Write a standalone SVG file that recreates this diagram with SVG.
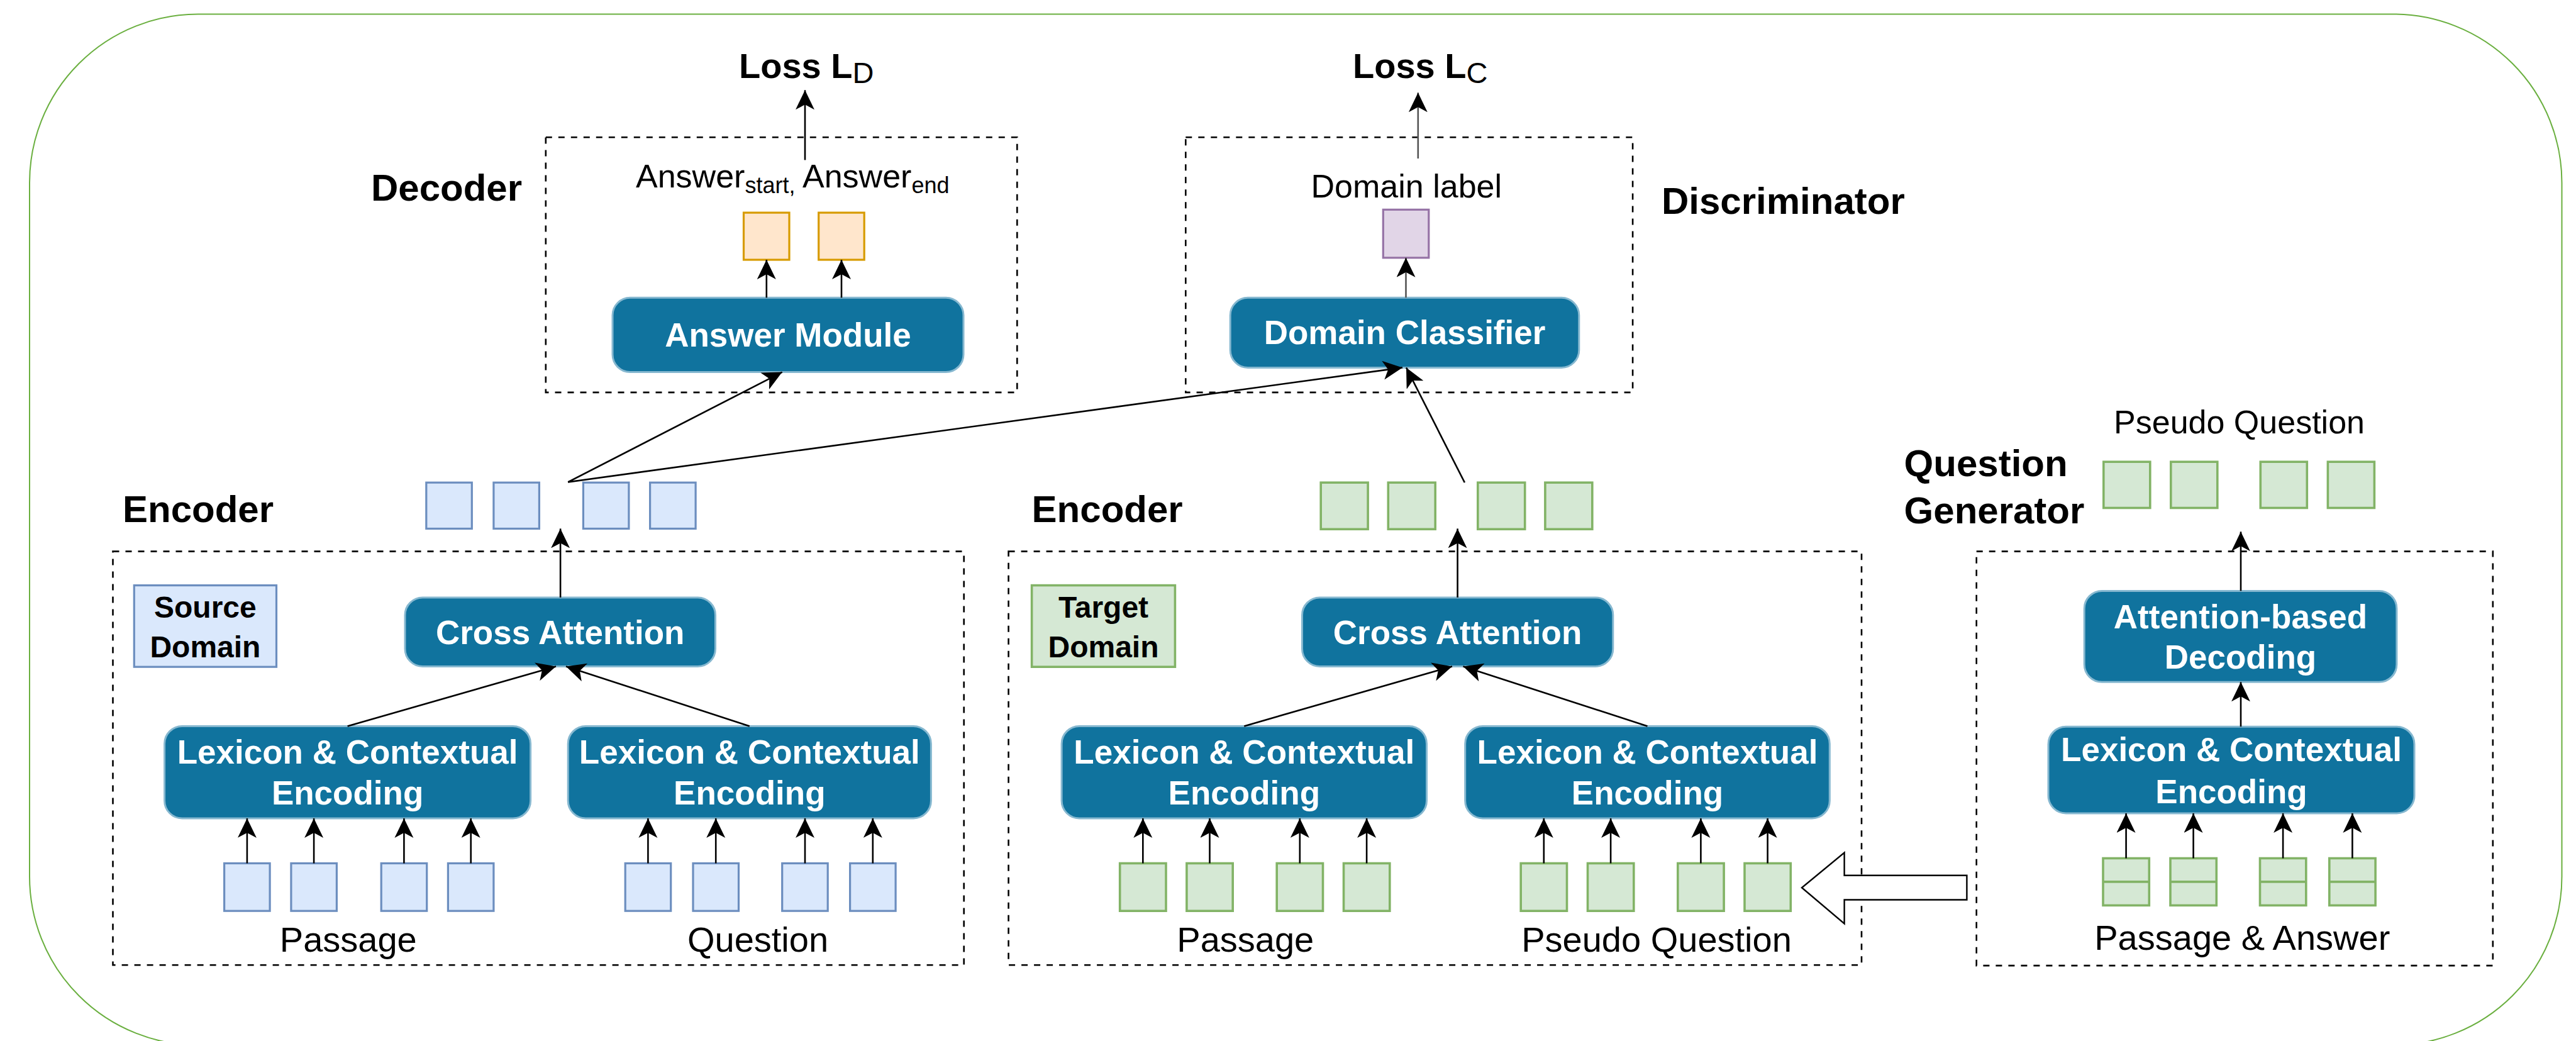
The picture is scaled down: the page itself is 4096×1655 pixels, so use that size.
<svg xmlns="http://www.w3.org/2000/svg" width="4096" height="1655" viewBox="0 0 4096 1655">
<defs>
<style>
.mod{fill:#10739e;stroke:#86b8d0;stroke-width:3}
.mt{font-family:"Liberation Sans",Arial,sans-serif;font-weight:bold;font-size:53px;fill:#ffffff;text-anchor:middle}
.dash{fill:none;stroke:#000;stroke-width:2.6;stroke-dasharray:10 10}
.bl{fill:#dae8fc;stroke:#6c8ebf;stroke-width:3.2}
.gr{fill:#d5e8d4;stroke:#82b366;stroke-width:3.6}
.or{fill:#ffe6cc;stroke:#d79b00;stroke-width:3.2}
.pu{fill:#e1d5e7;stroke:#9673a6;stroke-width:3.2}
.hd{font-family:"Liberation Sans",Arial,sans-serif;font-weight:bold;font-size:60px;fill:#000}
.dl{font-family:"Liberation Sans",Arial,sans-serif;font-weight:bold;font-size:48px;fill:#000;text-anchor:middle}
.tx{font-family:"Liberation Sans",Arial,sans-serif;font-size:52px;fill:#000}
.tb{font-family:"Liberation Sans",Arial,sans-serif;font-size:56px;fill:#000;text-anchor:middle}
.c{fill:none;stroke:#000;stroke-width:2.6;marker-end:url(#ah)}
.cg{fill:none;stroke:#555;stroke-width:2.6;marker-end:url(#ah)}
</style>
<marker id="ah" markerUnits="userSpaceOnUse" markerWidth="34" markerHeight="32" refX="31" refY="15" orient="auto">
<path d="M31,15 L0,0 L8,15 L0,30 Z" fill="#000"/>
</marker>
</defs>
<rect width="4096" height="1655" fill="#fff"/>
<g id="frame">
<rect x="47" y="22.5" width="4026.5" height="1639" rx="268" ry="268" fill="none" stroke="#6aaf3f" stroke-width="2"/>
</g>

<g id="loss-d">
<text class="hd" x="1175" y="124" style="font-size:56px">Loss L<tspan style="font-weight:normal;font-size:47px" dy="8">D</tspan></text>
</g>
<g id="loss-c">
<text class="hd" x="2151" y="124" style="font-size:56px">Loss L<tspan style="font-weight:normal;font-size:47px" dy="8">C</tspan></text>
</g>

<g id="decoder">
<rect class="dash" x="867.8" y="218.2" width="749.5" height="405.7"/>
<text class="hd" x="590" y="319">Decoder</text>
<text class="tx" x="1011" y="298">Answer<tspan style="font-size:36px" dy="9">start,</tspan><tspan dy="-9"> Answer</tspan><tspan style="font-size:36px" dy="9">end</tspan></text>
<rect class="or" x="1182.5" y="338.1" width="72.5" height="74.9"/>
<rect class="or" x="1301.7" y="338.1" width="72.5" height="74.9"/>
<g id="answer-module">
<rect class="mod" x="974" y="473.3" width="558" height="118.3" rx="28"/>
<text class="mt" x="1253" y="551">Answer Module</text>
</g>
</g>

<g id="discriminator">
<rect class="dash" x="1885.3" y="218.2" width="710.8" height="405.7"/>
<text class="hd" x="2642" y="340">Discriminator</text>
<text class="tx" x="2236.3" y="314" text-anchor="middle">Domain label</text>
<rect class="pu" x="2199.3" y="333.3" width="72.5" height="76.5"/>
<g id="domain-classifier">
<rect class="mod" x="1956.2" y="473.3" width="554.6" height="111.1" rx="28"/>
<text class="mt" x="2233.5" y="547">Domain Classifier</text>
</g>
</g>

<g id="source-encoder">
<text class="hd" x="195" y="830">Encoder</text>
<rect class="bl" x="677.8" y="767.2" width="72.5" height="73.3"/>
<rect class="bl" x="784.9" y="767.2" width="72.5" height="73.3"/>
<rect class="bl" x="927.4" y="767.2" width="72.5" height="73.3"/>
<rect class="bl" x="1033.6" y="767.2" width="72.5" height="73.3"/>
<rect class="dash" x="179.5" y="876.6" width="1353.2" height="657.7"/>
<rect class="bl" x="213.3" y="930.6" width="226.2" height="129.6"/>
<text class="dl" x="326.4" y="982">Source</text>
<text class="dl" x="326.4" y="1045">Domain</text>
<g id="src-cross-attention">
<rect class="mod" x="644" y="949.9" width="493.5" height="109.5" rx="28"/>
<text class="mt" x="890.7" y="1024">Cross Attention</text>
</g>
<g id="src-lex-passage">
<rect class="mod" x="261.6" y="1154.4" width="582" height="146.5" rx="28"/>
<text class="mt" x="552.6" y="1214">Lexicon &amp; Contextual</text>
<text class="mt" x="552.6" y="1279">Encoding</text>
</g>
<g id="src-lex-question">
<rect class="mod" x="903.2" y="1154.4" width="577.2" height="146.5" rx="28"/>
<text class="mt" x="1191.8" y="1214">Lexicon &amp; Contextual</text>
<text class="mt" x="1191.8" y="1279">Encoding</text>
</g>
<rect class="bl" x="356.6" y="1372.5" width="72.5" height="75.7"/>
<rect class="bl" x="462.9" y="1372.5" width="72.5" height="75.7"/>
<rect class="bl" x="606.2" y="1372.5" width="72.5" height="75.7"/>
<rect class="bl" x="712.4" y="1372.5" width="72.5" height="75.7"/>
<rect class="bl" x="994.2" y="1372.5" width="72.5" height="75.7"/>
<rect class="bl" x="1102" y="1372.5" width="72.5" height="75.7"/>
<rect class="bl" x="1243.7" y="1372.5" width="72.5" height="75.7"/>
<rect class="bl" x="1351.6" y="1372.5" width="72.5" height="75.7"/>
<text class="tb" x="553.8" y="1513">Passage</text>
<text class="tb" x="1205" y="1513">Question</text>
</g>

<g id="target-encoder">
<text class="hd" x="1640.6" y="830">Encoder</text>
<rect class="gr" x="2100.2" y="767.2" width="74.9" height="74.1"/>
<rect class="gr" x="2207.3" y="767.2" width="74.9" height="74.1"/>
<rect class="gr" x="2349.8" y="767.2" width="74.9" height="74.1"/>
<rect class="gr" x="2456.9" y="767.2" width="74.9" height="74.1"/>
<rect class="dash" x="1603.6" y="876.6" width="1356.4" height="657.7"/>
<rect class="gr" x="1640.6" y="930.6" width="227.8" height="129.6"/>
<text class="dl" x="1754.5" y="982">Target</text>
<text class="dl" x="1754.5" y="1045">Domain</text>
<g id="tgt-cross-attention">
<rect class="mod" x="2070.5" y="949.9" width="494.3" height="109.5" rx="28"/>
<text class="mt" x="2317.6" y="1024">Cross Attention</text>
</g>
<g id="tgt-lex-passage">
<rect class="mod" x="1688.1" y="1154.4" width="580.4" height="146.5" rx="28"/>
<text class="mt" x="1978.3" y="1214">Lexicon &amp; Contextual</text>
<text class="mt" x="1978.3" y="1279">Encoding</text>
</g>
<g id="tgt-lex-question">
<rect class="mod" x="2329.7" y="1154.4" width="579.6" height="146.5" rx="28"/>
<text class="mt" x="2619.5" y="1214">Lexicon &amp; Contextual</text>
<text class="mt" x="2619.5" y="1279">Encoding</text>
</g>
<rect class="gr" x="1780.7" y="1372.5" width="73.3" height="75.7"/>
<rect class="gr" x="1886.9" y="1372.5" width="73.3" height="75.7"/>
<rect class="gr" x="2030.2" y="1372.5" width="73.3" height="75.7"/>
<rect class="gr" x="2136.5" y="1372.5" width="73.3" height="75.7"/>
<rect class="gr" x="2418.2" y="1372.5" width="73.3" height="75.7"/>
<rect class="gr" x="2524.5" y="1372.5" width="73.3" height="75.7"/>
<rect class="gr" x="2667.8" y="1372.5" width="73.3" height="75.7"/>
<rect class="gr" x="2774" y="1372.5" width="73.3" height="75.7"/>
<text class="tb" x="1980.3" y="1513">Passage</text>
<text class="tb" x="2634" y="1513">Pseudo Question</text>
</g>

<g id="question-generator">
<text class="hd" x="3027.6" y="757">Question</text>
<text class="hd" x="3027.6" y="832">Generator</text>
<text class="tx" x="3560.5" y="689" text-anchor="middle">Pseudo Question</text>
<rect class="gr" x="3344.8" y="734.2" width="74" height="73.3"/>
<rect class="gr" x="3451.8" y="734.2" width="74" height="73.3"/>
<rect class="gr" x="3594.3" y="734.2" width="74" height="73.3"/>
<rect class="gr" x="3701.4" y="734.2" width="74" height="73.3"/>
<rect class="dash" x="3142.7" y="876.6" width="821.1" height="658.5"/>
<g id="qg-attention-decoding">
<rect class="mod" x="3314.2" y="939.4" width="496.7" height="144.9" rx="28"/>
<text class="mt" x="3562.5" y="999">Attention-based</text>
<text class="mt" x="3562.5" y="1063">Decoding</text>
</g>
<g id="qg-lex">
<rect class="mod" x="3257" y="1155.2" width="582" height="137.7" rx="28"/>
<text class="mt" x="3548" y="1210">Lexicon &amp; Contextual</text>
<text class="mt" x="3548" y="1277">Encoding</text>
</g>
<g class="gr">
<rect x="3344" y="1364.5" width="73.3" height="74.9"/>
<rect x="3451" y="1364.5" width="73.3" height="74.9"/>
<rect x="3593.5" y="1364.5" width="73.3" height="74.9"/>
<rect x="3703.8" y="1364.5" width="73.3" height="74.9"/>
<path d="M3344,1401.9 h73.3 M3451,1401.9 h73.3 M3593.5,1401.9 h73.3 M3703.8,1401.9 h73.3" fill="none"/>
</g>
<text class="tb" x="3565.3" y="1510">Passage &amp; Answer</text>
</g>

<g id="connectors">
<line class="c" x1="1280" y1="254.4" x2="1280" y2="143.3"/>
<line class="cg" x1="2254.8" y1="252" x2="2254.8" y2="147.3"/>
<line class="c" x1="1218.8" y1="473.3" x2="1218.8" y2="413"/>
<line class="c" x1="1338" y1="473.3" x2="1338" y2="413"/>
<line class="cg" x1="2235.5" y1="473.3" x2="2235.5" y2="409.8"/>
<line class="c" x1="891.1" y1="949.9" x2="891.1" y2="840.4"/>
<line class="c" x1="903.2" y1="766.4" x2="1243.7" y2="591.6"/>
<line class="c" x1="903.2" y1="766.4" x2="2230" y2="584.4"/>
<line class="c" x1="2328.9" y1="767.2" x2="2236" y2="584.4"/>
<line class="c" x1="2317.6" y1="949.9" x2="2317.6" y2="840.4"/>
<line class="c" x1="552.6" y1="1154.4" x2="884" y2="1059.4"/>
<line class="c" x1="1191.8" y1="1154.4" x2="900" y2="1059.4"/>
<line class="c" x1="1978.3" y1="1154.4" x2="2309" y2="1059.4"/>
<line class="c" x1="2619.5" y1="1154.4" x2="2326.5" y2="1059.4"/>
<line class="c" x1="392.9" y1="1372.5" x2="392.9" y2="1300.9"/>
<line class="c" x1="499.1" y1="1372.5" x2="499.1" y2="1300.9"/>
<line class="c" x1="642.4" y1="1372.5" x2="642.4" y2="1300.9"/>
<line class="c" x1="748.7" y1="1372.5" x2="748.7" y2="1300.9"/>
<line class="c" x1="1030.4" y1="1372.5" x2="1030.4" y2="1300.9"/>
<line class="c" x1="1138.2" y1="1372.5" x2="1138.2" y2="1300.9"/>
<line class="c" x1="1280" y1="1372.5" x2="1280" y2="1300.9"/>
<line class="c" x1="1387.8" y1="1372.5" x2="1387.8" y2="1300.9"/>
<line class="c" x1="1817.3" y1="1372.5" x2="1817.3" y2="1300.9"/>
<line class="c" x1="1923.5" y1="1372.5" x2="1923.5" y2="1300.9"/>
<line class="c" x1="2066.8" y1="1372.5" x2="2066.8" y2="1300.9"/>
<line class="c" x1="2173.1" y1="1372.5" x2="2173.1" y2="1300.9"/>
<line class="c" x1="2454.8" y1="1372.5" x2="2454.8" y2="1300.9"/>
<line class="c" x1="2561.1" y1="1372.5" x2="2561.1" y2="1300.9"/>
<line class="c" x1="2704.4" y1="1372.5" x2="2704.4" y2="1300.9"/>
<line class="c" x1="2810.6" y1="1372.5" x2="2810.6" y2="1300.9"/>
<line class="c" x1="3380.6" y1="1364.5" x2="3380.6" y2="1292.9"/>
<line class="c" x1="3487.6" y1="1364.5" x2="3487.6" y2="1292.9"/>
<line class="c" x1="3630.1" y1="1364.5" x2="3630.1" y2="1292.9"/>
<line class="c" x1="3740.4" y1="1364.5" x2="3740.4" y2="1292.9"/>
<line class="c" x1="3563" y1="1155.2" x2="3563" y2="1084.3"/>
<line class="c" x1="3563" y1="939.4" x2="3563" y2="845.3"/>
<polygon points="3127.4,1391.8 2932.6,1391.8 2932.6,1355.6 2865,1411.2 2932.6,1468.3 2932.6,1430.5 3127.4,1430.5" fill="#fff" stroke="#000" stroke-width="2.4"/>
</g>
</svg>
